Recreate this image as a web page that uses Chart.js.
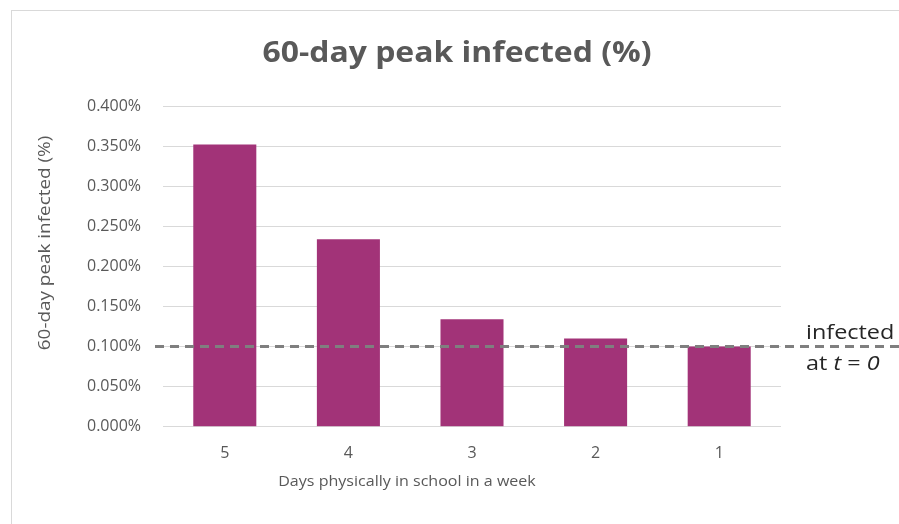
<!DOCTYPE html>
<html>
<head>
<meta charset="utf-8">
<script src="https://cdn.jsdelivr.net/npm/chart.js@4/dist/chart.umd.min.js"></script>
<style>
  html, body { margin: 0; padding: 0; background: #ffffff; }
  #wrap { width: 899px; height: 524px; position: relative; }
</style>
</head>
<body>
<div id="wrap"><canvas id="chart" width="899" height="524"></canvas></div>
<script>
// Days per week attended in person, and the resulting 60-day peak infected share (%)
const days = ['5', '4', '3', '2', '1'];
const peakInfected = [0.352, 0.234, 0.134, 0.110, 0.100];
// Share infected at the start of the simulation (%)
const initialInfected = 0.100;

const chartTitle = '60-day peak infected (%)';
const yTitle = '60-day peak infected (%)';
const xTitle = 'Days physically in school in a week';
const refLabel1 = 'infected';

const TEXT = '#595959';
const FONT = "'Open Sans', 'Liberation Sans', sans-serif";

// Draw text centred at (x, y), stretched horizontally by sx
function wideText(ctx, s, x, y, sx) {
  ctx.save();
  ctx.translate(x, y);
  ctx.scale(sx, 1);
  ctx.fillText(s, 0, 0);
  ctx.restore();
}

// Outer frame, chart title and axis titles
const decorations = {
  id: 'decorations',
  beforeDraw(chart) {
    const ctx = chart.ctx;
    ctx.save();
    ctx.fillStyle = '#ffffff';
    ctx.fillRect(0, 0, chart.width, chart.height);
    ctx.strokeStyle = '#d9d9d9';
    ctx.lineWidth = 1;
    ctx.strokeRect(11.5, 10.5, chart.width, chart.height);
    ctx.restore();
  },
  afterDraw(chart) {
    const ctx = chart.ctx;
    ctx.save();
    ctx.fillStyle = TEXT;
    ctx.textAlign = 'center';
    ctx.textBaseline = 'middle';
    ctx.font = "bold 28px " + FONT;
    wideText(ctx, chartTitle, 457, 54, 1.14);

    ctx.font = "15px " + FONT;
    wideText(ctx, xTitle, 407, 482, 1.07);

    ctx.translate(45, 243);
    ctx.rotate(-Math.PI / 2);
    ctx.font = "16px " + FONT;
    wideText(ctx, yTitle, 0, 0, 1.18);
    ctx.restore();
  }
};

// Dashed reference line for the initially infected share, with its label
const referenceLine = {
  id: 'referenceLine',
  afterDatasetsDraw(chart) {
    const ctx = chart.ctx;
    const y = chart.scales.y.getPixelForValue(initialInfected);
    ctx.save();
    ctx.strokeStyle = '#7f7f7f';
    ctx.lineWidth = 3;
    ctx.setLineDash([9, 6]);
    ctx.beginPath();
    ctx.moveTo(chart.chartArea.left - 8, y);
    ctx.lineTo(chart.width, y);
    ctx.stroke();
    ctx.setLineDash([]);

    ctx.fillStyle = '#262626';
    ctx.textAlign = 'left';
    ctx.textBaseline = 'alphabetic';
    const x0 = 806;
    const sx = 1.17;
    ctx.font = "20px " + FONT;
    ctx.save();
    ctx.translate(x0, y - 8);
    ctx.scale(sx, 1);
    ctx.fillText(refLabel1, 0, 0);
    ctx.restore();

    ctx.save();
    ctx.translate(x0, y + 23);
    ctx.scale(sx, 1);
    let x = 0;
    const parts = [['at ', false], ['t', true], [' = ', false], ['0', true]];
    parts.forEach(([s, it]) => {
      ctx.font = (it ? 'italic ' : '') + "20px " + FONT;
      ctx.fillText(s, x, 0);
      x += ctx.measureText(s).width;
    });
    ctx.restore();
    ctx.restore();
  }
};

new Chart(document.getElementById('chart'), {
  type: 'bar',
  data: {
    labels: days,
    datasets: [{
      data: peakInfected,
      backgroundColor: '#a23378',
      borderWidth: 0,
      categoryPercentage: 1.0,
      barPercentage: 0.51
    }]
  },
  options: {
    responsive: false,
    animation: false,
    layout: { padding: { left: 0, right: 118, top: 106, bottom: 52 } },
    plugins: { legend: { display: false }, tooltip: { enabled: false }, title: { display: false } },
    scales: {
      x: {
        grid: { display: false },
        border: { display: false },
        ticks: { color: TEXT, font: { family: FONT, size: 16 }, padding: 9 }
      },
      y: {
        min: 0,
        max: 0.4,
        afterFit(scale) { scale.width = 163; },
        border: { display: false },
        grid: { color: '#d9d9d9', lineWidth: 1, drawTicks: false },
        ticks: {
          stepSize: 0.05,
          color: TEXT,
          font: { family: FONT, size: 16 },
          padding: 22,
          callback: v => v.toFixed(3) + '%'
        }
      }
    }
  },
  plugins: [decorations, referenceLine]
});
</script>
</body>
</html>
